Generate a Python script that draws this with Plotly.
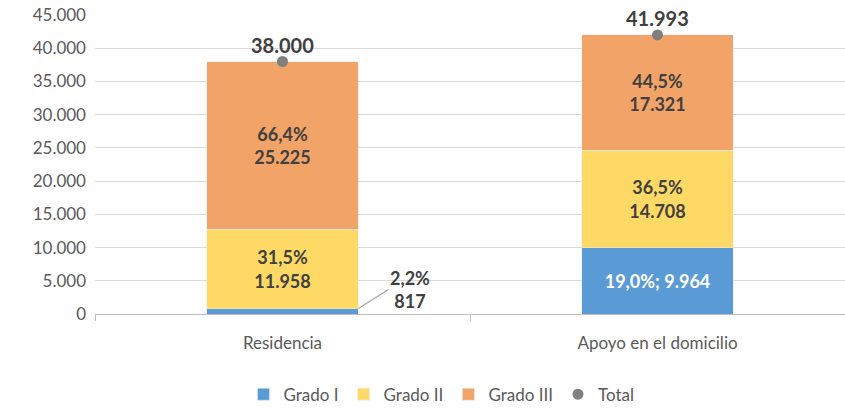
import plotly.graph_objects as go

categories = ["Residencia", "Apoyo en el domicilio"]
grado_1 = [817, 9964]
grado_2 = [11958, 14708]
grado_3 = [25225, 17321]
total = [38000, 41993]

pct_1 = ["2,2%", "19,0%"]
pct_2 = ["31,5%", "36,5%"]
pct_3 = ["66,4%", "44,5%"]


def _fmt(value: int) -> str:
    return f"{value:,}".replace(",", ".")


FONT = "Lato, 'Open Sans', sans-serif"
LABEL_COLOR = "#404040"
LABEL_SIZE = 18

fig = go.Figure()

# Grado I: la barra de Residencia es demasiado fina, su etiqueta va fuera con línea guía
fig.add_trace(go.Bar(
    x=categories, y=grado_1, name="Grado I", marker_color="#5B9BD5",
    text=["", f"{pct_1[1]}; {_fmt(grado_1[1])}"],
    textposition="inside", insidetextanchor="middle", constraintext="none",
    textfont=dict(family=FONT, size=LABEL_SIZE, color="white", weight="bold"),
    hoverinfo="skip",
))
fig.add_trace(go.Bar(
    x=categories, y=grado_2, name="Grado II", marker_color="#FFD966",
    text=[f"{p}<br>{_fmt(v)}" for p, v in zip(pct_2, grado_2)],
    textposition="inside", insidetextanchor="middle", constraintext="none",
    textfont=dict(family=FONT, size=LABEL_SIZE, color=LABEL_COLOR, weight="bold"),
    hoverinfo="skip",
))
fig.add_trace(go.Bar(
    x=categories, y=grado_3, name="Grado III", marker_color="#F2A367",
    text=[f"{p}<br>{_fmt(v)}" for p, v in zip(pct_3, grado_3)],
    textposition="inside", insidetextanchor="middle", constraintext="none",
    textfont=dict(family=FONT, size=LABEL_SIZE, color=LABEL_COLOR, weight="bold"),
    hoverinfo="skip",
))
fig.add_trace(go.Scatter(
    x=categories, y=total, name="Total", mode="markers",
    marker=dict(color="#7F7F7F", size=11),
    hoverinfo="skip",
))

# etiquetas del total, por encima del punto
for cat, val in zip(categories, total):
    fig.add_annotation(
        x=cat, y=val, text=_fmt(val), showarrow=False,
        yanchor="bottom", yshift=3,
        font=dict(family=FONT, size=20, color=LABEL_COLOR, weight="bold"),
    )

# etiqueta exterior del Grado I en Residencia
fig.add_annotation(
    x=0.2025, y=grado_1[0], xref="x", yref="y",
    text=f"{pct_1[0]}<br>{_fmt(grado_1[0])}",
    showarrow=True, arrowhead=0, arrowwidth=1.2, arrowcolor="#A6A6A6",
    ax=30, ay=-19, xanchor="left",
    font=dict(family=FONT, size=LABEL_SIZE, color=LABEL_COLOR, weight="bold"),
)

fig.update_layout(
    width=845, height=409,
    margin=dict(l=95, r=0, t=15, b=95),
    paper_bgcolor="white", plot_bgcolor="white",
    barmode="stack", bargap=0.595,
    separators=",.",
    font=dict(family=FONT, size=16, color="#595959"),
    legend=dict(
        orientation="h", x=0.462, xanchor="center",
        yref="container", y=0.035, yanchor="middle",
        font=dict(family=FONT, size=17, color="#595959"),
        itemwidth=30, traceorder="normal",
    ),
    xaxis=dict(
        automargin=False,
        showline=True, linecolor="#BFBFBF", linewidth=1,
        ticks="outside", tickson="boundaries", ticklen=6, tickcolor="#BFBFBF",
        ticklabelstandoff=14,
        tickfont=dict(family=FONT, size=17, color="#595959"),
    ),
    yaxis=dict(
        automargin=False,
        range=[0, 45000], dtick=5000, tickformat=",d",
        showgrid=True, gridcolor="#D9D9D9", gridwidth=1,
        zeroline=False, ticks="", ticklen=0,
        ticklabelstandoff=8,
        tickfont=dict(family=FONT, size=17, color="#595959"),
    ),
)

# sin margen del <body> para que la figura ocupe la ventana entera
fig.write_html(
    "out.html",
    config={"displayModeBar": False},
    post_script="document.body.style.margin='0';",
)
